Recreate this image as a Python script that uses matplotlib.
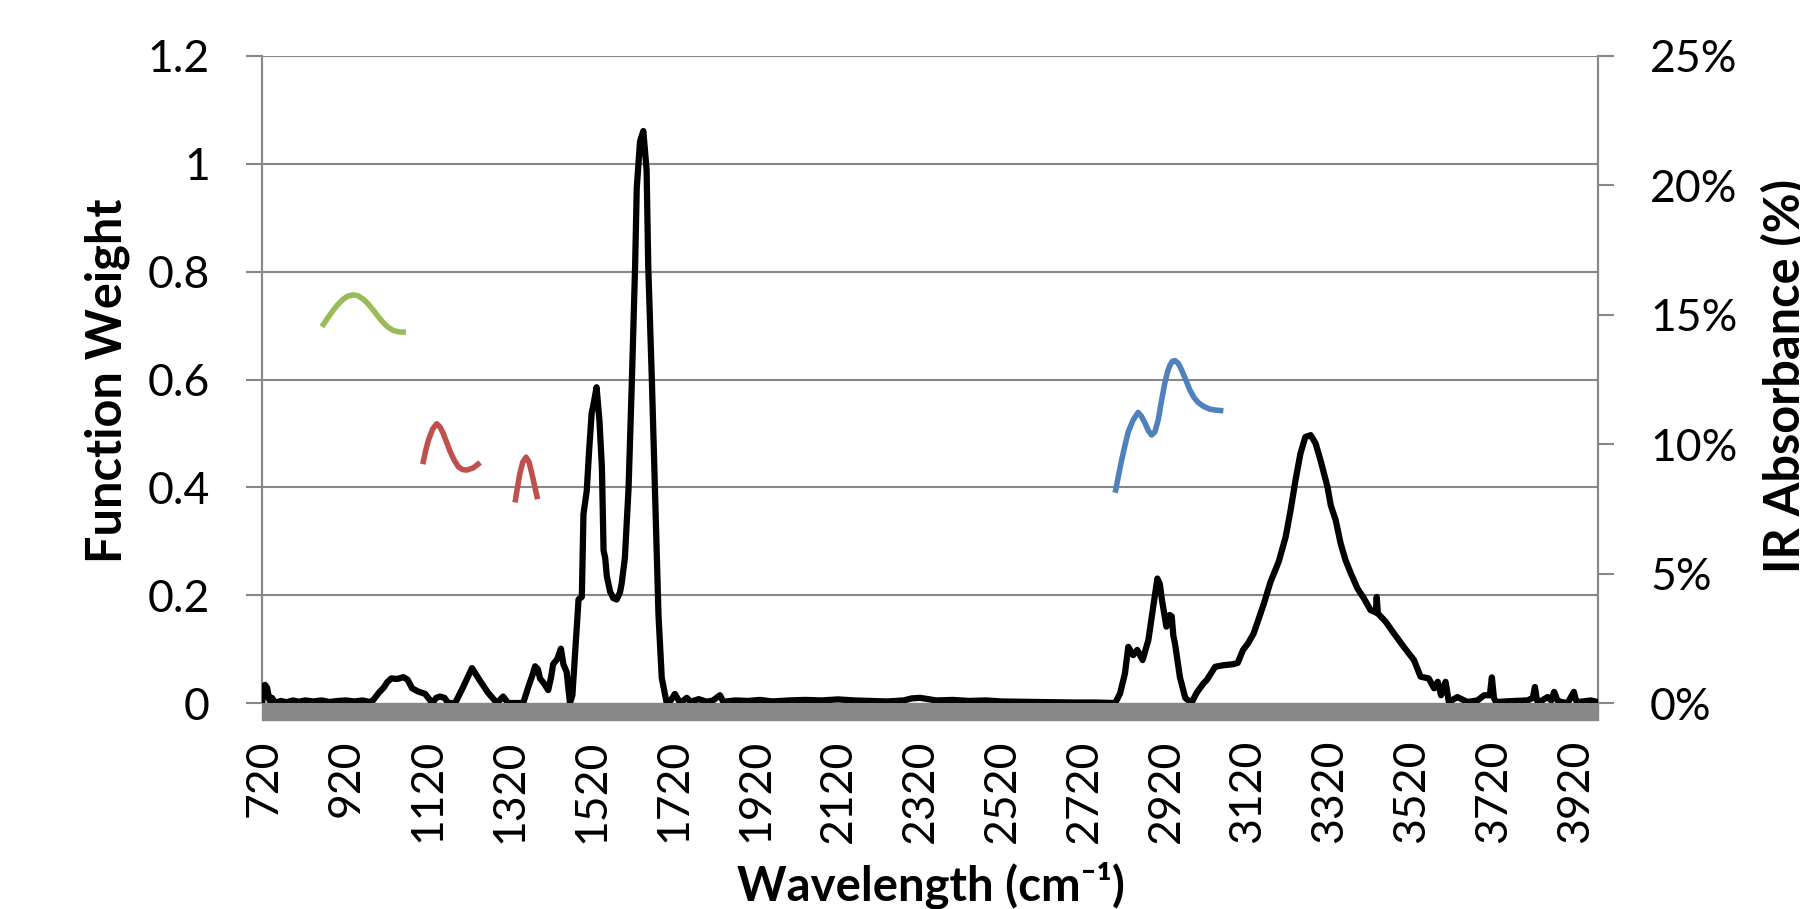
import matplotlib
matplotlib.use("Agg")
import matplotlib.pyplot as plt
from matplotlib.patches import Rectangle
from matplotlib.ticker import FuncFormatter

# IR spectrum (right axis, %)
ir_wn = [716, 722, 727, 733, 739, 748, 760, 775, 790, 805, 820, 840, 860, 880, 900, 920, 940,
         960, 975, 983, 1000, 1012, 1020, 1030, 1045, 1060, 1070, 1081, 1095, 1113, 1130, 1140,
         1149, 1160, 1169, 1186, 1205, 1227, 1245, 1266, 1288, 1303, 1315, 1352, 1364, 1375,
         1381, 1388, 1393, 1403, 1413, 1420, 1425, 1435, 1444, 1450, 1458, 1466, 1472, 1479,
         1487, 1495, 1499, 1507, 1513, 1519, 1523, 1531, 1538, 1544, 1548, 1552, 1556, 1564,
         1572, 1580, 1588, 1592, 1600, 1609, 1617, 1625, 1629, 1637, 1645, 1653, 1657, 1666,
         1674, 1682, 1690, 1702, 1712, 1722, 1735, 1751, 1760, 1780, 1800, 1815, 1832, 1840,
         1870, 1900, 1930, 1960, 2000, 2040, 2080, 2120, 2160, 2200, 2240, 2280, 2300, 2320,
         2340, 2360, 2400, 2440, 2480, 2520, 2560, 2600, 2650, 2700, 2750, 2790, 2796, 2808,
         2820, 2828, 2840, 2850, 2863, 2877, 2889, 2899, 2905, 2910, 2921, 2929, 2934, 2938,
         2942, 2954, 2967, 2982, 2995, 3011, 3020, 3040, 3060, 3084, 3095, 3108, 3120, 3134,
         3159, 3175, 3195, 3212, 3224, 3236, 3248, 3260, 3273, 3285, 3297, 3314, 3322, 3334,
         3346, 3358, 3371, 3387, 3403, 3419, 3432, 3434, 3437, 3456, 3476, 3500, 3525, 3541,
         3561, 3574, 3583, 3591, 3602, 3610, 3631, 3655, 3680, 3696, 3710, 3715, 3720, 3725,
         3770, 3802, 3815, 3820, 3825, 3831, 3851, 3860, 3867, 3875, 3884, 3900, 3915, 3920,
         3925, 3957, 3972]
ir_pct = [0.1, 0.7, 0.6, 0.1, 0.2, 0.0, 0.08, 0.03, 0.1, 0.05, 0.1, 0.06, 0.1, 0.04, 0.08, 0.1,
          0.06, 0.1, 0.05, 0.05, 0.4, 0.6, 0.8, 0.95, 0.93, 1.0, 0.9, 0.57, 0.45, 0.35, 0.0, 0.2,
          0.25, 0.2, 0.0, 0.0, 0.6, 1.35, 0.9, 0.4, 0.0, 0.25, 0.0, 0.0, 0.6, 1.1,
          1.42, 1.3, 0.95, 0.75, 0.5, 1.0, 1.5, 1.7, 2.1, 1.5, 1.2, 0.0, 0.3, 2.0,
          4.0, 4.1, 7.3, 8.2, 9.8, 11.2, 11.5, 12.2, 10.9, 9.1, 5.9, 5.6, 4.9, 4.3,
          4.05, 4.0, 4.27, 4.6, 5.6, 8.3, 12.4, 16.9, 19.9, 21.7, 22.1, 20.6, 16.9, 12.4,
          7.9, 3.4, 0.97, 0.0, 0.1, 0.35, 0.0, 0.2, 0.05, 0.15, 0.05, 0.1, 0.3, 0.05,
          0.1, 0.08, 0.12, 0.06, 0.1, 0.12, 0.1, 0.14, 0.1, 0.08, 0.06, 0.1, 0.18, 0.2,
          0.15, 0.1, 0.12, 0.08, 0.1, 0.06, 0.05, 0.04, 0.03, 0.02, 0.02, 0.0, 0.0, 0.37,
          1.15, 2.17, 1.85, 2.05, 1.66, 2.43, 3.72, 4.81, 4.6, 4.0, 2.95, 3.4, 3.35, 2.6,
          2.3, 1.0, 0.2, 0.0, 0.4, 0.75, 0.9, 1.4, 1.46, 1.5, 1.55, 2.05, 2.3, 2.69,
          3.85, 4.68, 5.46, 6.42, 7.45, 8.61, 9.64, 10.28, 10.35, 10.03, 9.38, 8.35, 7.64, 7.07,
          6.17, 5.52, 5.01, 4.43, 4.04, 3.59, 3.5, 4.1, 3.46, 3.14, 2.69, 2.17, 1.66, 1.02,
          0.95, 0.57, 0.82, 0.3, 0.82, 0.04, 0.23, 0.04, 0.1, 0.3, 0.3, 0.99, 0.2, 0.04,
          0.08, 0.1, 0.2, 0.62, 0.1, 0.04, 0.23, 0.1, 0.43, 0.1, 0.04, 0.0, 0.43, 0.1,
          0.04, 0.1, 0.04]

# function weights (left axis)
green_wn = [861, 875, 889, 901, 913, 925, 938, 950, 962, 974, 986, 998, 1010, 1022, 1035, 1050, 1066]
green_w = [0.698, 0.714, 0.729, 0.740, 0.749, 0.755, 0.757, 0.755, 0.749, 0.740, 0.729, 0.717,
           0.706, 0.697, 0.691, 0.688, 0.688]
red1_wn = [1107, 1114, 1121, 1131, 1141, 1149, 1157, 1165, 1174, 1184, 1194, 1204, 1214, 1230, 1247]
red1_w = [0.443, 0.468, 0.488, 0.508, 0.518, 0.512, 0.500, 0.484, 0.466, 0.450, 0.438, 0.433,
          0.432, 0.436, 0.446]
red2_wn = [1332, 1338, 1344, 1351, 1359, 1366, 1373, 1380, 1387]
red2_w = [0.372, 0.400, 0.426, 0.447, 0.456, 0.447, 0.426, 0.402, 0.378]
blue_wn = [2796, 2804, 2812, 2820, 2828, 2840, 2852, 2860, 2869, 2877, 2885, 2893, 2901, 2909,
           2917, 2924, 2930, 2936, 2942, 2950, 2958, 2968, 2978, 2988, 2999, 3012, 3027, 3044, 3060]
blue_w = [0.390, 0.421, 0.451, 0.478, 0.503, 0.525, 0.539, 0.532, 0.519, 0.505, 0.497, 0.503,
          0.525, 0.560, 0.593, 0.615, 0.627, 0.634, 0.635, 0.630, 0.618, 0.600, 0.581, 0.567,
          0.557, 0.550, 0.545, 0.543, 0.542]

x_ticks = list(range(720, 3921, 200))
left_ticks = [0, 0.2, 0.4, 0.6, 0.8, 1.0, 1.2]
right_ticks = [0, 5, 10, 15, 20, 25]

plt.rcParams['font.family'] = ['Lato', 'DejaVu Sans']
grid_col = '#878787'

fig = plt.figure(figsize=(18, 9.09), dpi=100)
ax = fig.add_axes([0.1456, 0.2266, 0.7422, 0.7118])
ax2 = ax.twinx()

ax.set_xlim(715, 3974)
ax.set_ylim(0, 1.2)
ax2.set_ylim(0, 25)

for y in left_ticks[1:]:
    ax.axhline(y, color=grid_col, lw=1.5, zorder=0)

ax.plot(green_wn, green_w, color='#9BBB59', lw=4.0, solid_capstyle='butt', zorder=3)
ax.plot(red1_wn, red1_w, color='#C0504D', lw=4.0, solid_capstyle='butt', zorder=3)
ax.plot(red2_wn, red2_w, color='#C0504D', lw=4.0, solid_capstyle='butt', zorder=3)
ax.plot(blue_wn, blue_w, color='#4F81BD', lw=4.0, solid_capstyle='butt', zorder=3)
ax2.plot(ir_wn, ir_pct, color='black', lw=4.5, solid_joinstyle='round', zorder=3)
ax2.set_xlim(715, 3974)

# grey floor strip under the plot
ax.add_patch(Rectangle((0, -0.0263), 1, 0.0263, transform=ax.transAxes,
                       color='#888888', clip_on=False, zorder=5))

for a in (ax, ax2):
    a.spines['top'].set_visible(False)
    a.spines['bottom'].set_visible(False)
    a.spines['left'].set_color(grid_col)
    a.spines['right'].set_color(grid_col)
    a.spines['left'].set_linewidth(1.5)
    a.spines['right'].set_linewidth(1.5)

ax.set_xticks(x_ticks)
ax.set_xticklabels([str(t) for t in x_ticks], rotation=90, va='top', ha='center')
ax.tick_params(axis='x', length=0, pad=26, labelsize=32)
ax.set_yticks(left_ticks)
ax.set_yticklabels(['0', '0.2', '0.4', '0.6', '0.8', '1', '1.2'])
ax.tick_params(axis='y', length=11.5, width=1.5, color=grid_col, pad=26, labelsize=32)
ax2.set_yticks(right_ticks)
ax2.yaxis.set_major_formatter(FuncFormatter(lambda v, p: '%d%%' % v))
ax2.tick_params(axis='y', length=11.5, width=1.5, color=grid_col, pad=26, labelsize=32)

fig.text(107 / 1800, 1 - 381 / 909, 'Function Weight', rotation=90, ha='center', va='center',
         fontsize=35, fontweight='bold')
fig.text(1785 / 1800, 1 - 376 / 909, 'IR Absorbance (%)', rotation=90, ha='center', va='center',
         fontsize=35, fontweight='bold')
fig.text(931 / 1800, 1 - 885 / 909, 'Wavelength (cm\u207b\u00b9)', ha='center', va='center',
         fontsize=34, fontweight='bold')

fig.savefig('out.png', dpi=100)
